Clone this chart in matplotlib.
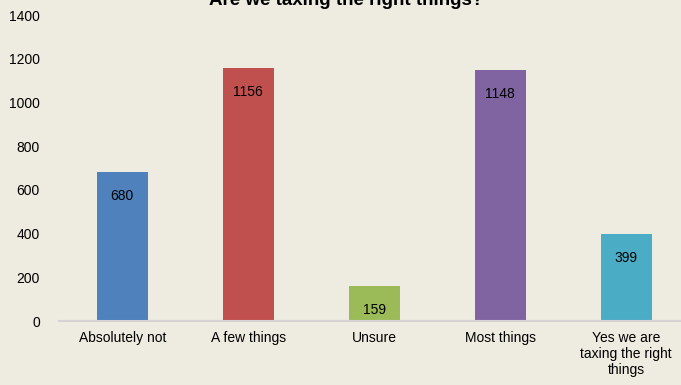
import matplotlib.pyplot as plt

plt.rcParams["font.family"] = ["Liberation Sans", "DejaVu Sans"]

# ============================
# Données
# ============================
categories = ["Absolutely not", "A few things", "Unsure", "Most things",
              "Yes we are\ntaxing the right\nthings"]
responses = [680, 1156, 159, 1148, 399]
colors = ["#4F81BD", "#C0504D", "#9BBB59", "#8064A2", "#4BACC6"]

bg = "#EEEBE0"

# ============================
# Visualisation
# ============================
fig = plt.figure(figsize=(6.81, 3.85), dpi=100, facecolor=bg)
ax = fig.add_axes([0.087, 0.166, 0.925, 0.795], facecolor=bg)

x = range(len(categories))
bars = ax.bar(x, responses, width=0.405, color=colors)

for b, v in zip(bars, responses):
    ax.text(b.get_x() + b.get_width() / 2, v - 110, str(v),
            ha="center", va="center", fontsize=10, color="black")

ax.set_xlim(-0.5, len(categories) - 0.5)
ax.set_ylim(0, 1400)
ax.set_yticks(range(0, 1401, 200))
ax.set_xticks(list(x))
ax.set_xticklabels(categories, fontsize=10, linespacing=1.2)
ax.tick_params(axis="y", labelsize=10, length=0, pad=14)
ax.tick_params(axis="x", length=0, pad=7)

for side in ["top", "right", "left"]:
    ax.spines[side].set_visible(False)
ax.spines["bottom"].set_color("#D4D4D4")
ax.spines["bottom"].set_linewidth(1.5)

fig.text(0.508, 0.987, "Are we taxing the right things?", ha="center",
         va="baseline", fontsize=13.5, fontweight="bold")

fig.savefig("out.png", dpi=100, facecolor=bg)
